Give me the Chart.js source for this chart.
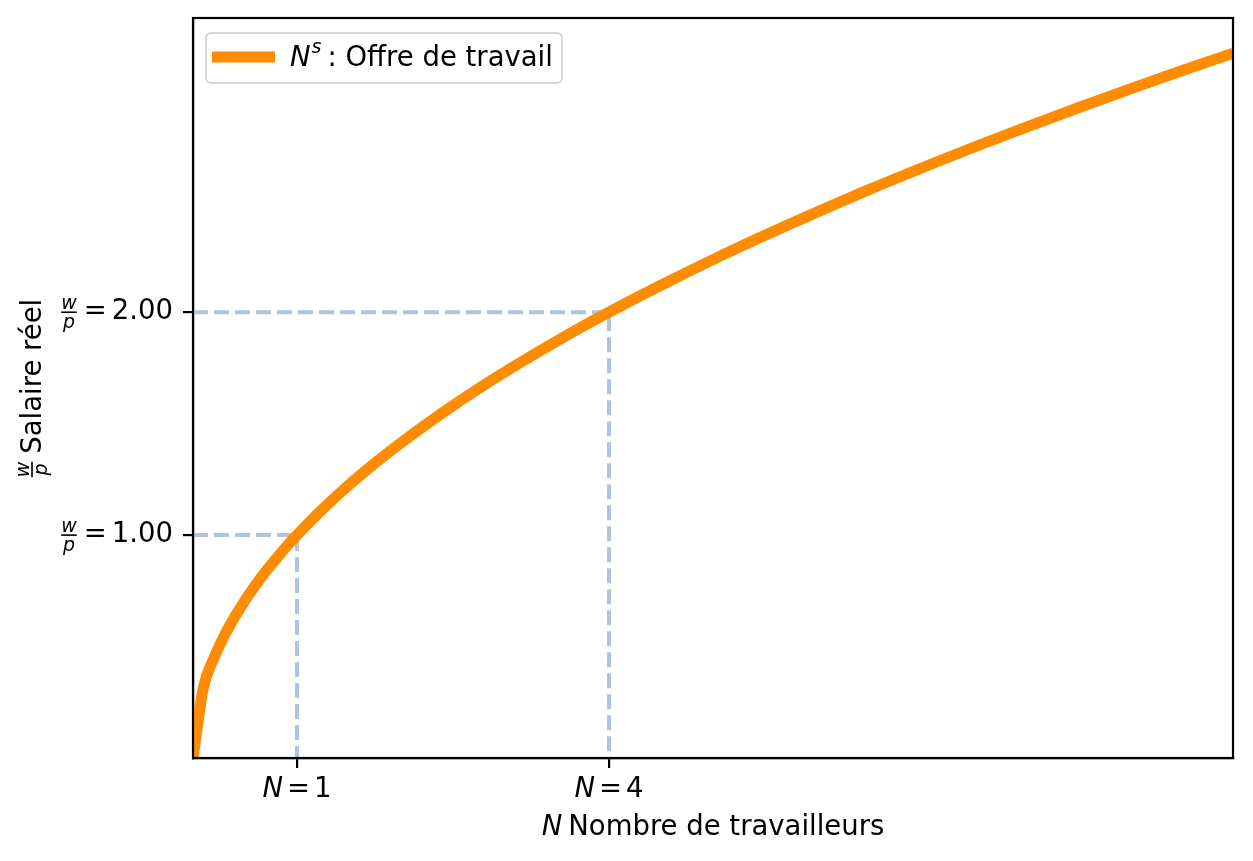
<!DOCTYPE html>
<html>
<head>
<meta charset="utf-8">
<script src="https://cdn.jsdelivr.net/npm/chart.js@4/dist/chart.umd.min.js"></script>
<style>
  body { margin: 0; background: #fff; }
  canvas { display: block; }
</style>
</head>
<body>
<canvas id="myChart" width="1253" height="861"></canvas>
<script>
// courbe d'offre de travail
var nValues = [0, 0.1, 0.2, 0.3, 0.4, 0.5, 0.6, 0.7, 0.8, 0.9, 1, 1.25, 1.5, 1.75, 2, 2.5, 3, 3.5, 4, 4.5, 5, 5.5, 6, 6.5, 7, 7.5, 8, 8.5, 9, 9.5, 10];
var wValues = [0, 0.316, 0.447, 0.548, 0.632, 0.707, 0.775, 0.837, 0.894, 0.949, 1, 1.118, 1.225, 1.323, 1.414, 1.581, 1.732, 1.871, 2, 2.121, 2.236, 2.345, 2.449, 2.550, 2.646, 2.739, 2.828, 2.915, 3, 3.082, 3.162];

// points repères (pointillés)
var guideN = [1, 4];
var guideW = [1, 2];

var xTicks = [1, 4];
var yTicks = [1, 2];
var xTickLabels = ["1", "4"];
var yTickLabels = ["1.00", "2.00"];

var legendText = ": Offre de travail";
var xTitle = "Nombre de travailleurs";
var yTitle = "Salaire réel";

var orange = "#FF8C00";
var guideColor = "#B0C4DE";
var FONT = "DejaVu Sans";
var FS = 27.5;

var curve = nValues.map((n, i) => ({ x: n, y: wValues[i] }));

var datasets = [];
guideN.forEach((n, i) => {
  datasets.push({
    data: [{ x: 0, y: guideW[i] }, { x: n, y: guideW[i] }, { x: n, y: 0 }],
    borderColor: guideColor,
    borderWidth: 4,
    borderDash: [15, 6],
    pointRadius: 0,
    order: 2
  });
});
datasets.push({
  data: curve,
  borderColor: orange,
  borderWidth: 11,
  borderCapStyle: "butt",
  cubicInterpolationMode: "monotone",
  pointRadius: 0,
  order: 1
});

function font(style, size) {
  return (style ? style + " " : "") + size + "px '" + FONT + "'";
}

// w/p en fraction
function fracWidth(ctx, size) {
  ctx.font = font("italic", size);
  return Math.max(ctx.measureText("w").width, ctx.measureText("p").width);
}
function drawFrac(ctx, x, yMid, size) {
  ctx.save();
  var w = fracWidth(ctx, size);
  ctx.textAlign = "center";
  ctx.textBaseline = "alphabetic";
  ctx.fillText("w", x + w / 2, yMid - 3);
  ctx.textBaseline = "top";
  ctx.fillText("p", x + w / 2, yMid + 1);
  ctx.fillRect(x, yMid - 0.8, w, 1.6);
  ctx.restore();
  return w;
}

// suite de morceaux [texte, style, écart]
function pieces(ctx, parts) {
  var tot = 0;
  parts.forEach(p => { ctx.font = font(p[1], FS); p.w = ctx.measureText(p[0]).width; tot += p.w + (p[2] || 0); });
  return tot;
}
function drawPieces(ctx, parts, x, y) {
  ctx.textAlign = "left";
  parts.forEach(p => {
    ctx.font = font(p[1], FS);
    ctx.fillText(p[0], x, y);
    x += p.w + (p[2] || 0);
  });
}

var customDraw = {
  id: "customDraw",
  afterDraw(chart) {
    var ctx = chart.ctx;
    var a = chart.chartArea;
    var xs = chart.scales.x, ys = chart.scales.y;
    ctx.save();
    ctx.fillStyle = "#000";

    // cadre
    ctx.strokeStyle = "#000";
    ctx.lineWidth = 2.2;
    ctx.strokeRect(a.left, a.top, a.right - a.left, a.bottom - a.top);

    // étiquettes de l'axe x
    ctx.textBaseline = "alphabetic";
    xTicks.forEach((v, i) => {
      var px = xs.getPixelForValue(v);
      var parts = [["N", "italic", 4], ["=", "", 4], [xTickLabels[i], ""]];
      var w = pieces(ctx, parts);
      drawPieces(ctx, parts, px - w / 2, 797);
    });

    // étiquettes de l'axe y
    yTicks.forEach((v, i) => {
      var py = ys.getPixelForValue(v);
      var parts = [["=", "", 5], [yTickLabels[i], ""]];
      var w = pieces(ctx, parts);
      ctx.textBaseline = "middle";
      drawPieces(ctx, parts, 173 - w, py);
      var fw = fracWidth(ctx, 19);
      drawFrac(ctx, 173 - w - 7 - fw, py, 19);
    });

    // titre x
    ctx.textBaseline = "alphabetic";
    var xp = [["N", "italic", 6], [xTitle, ""]];
    var wx = pieces(ctx, xp);
    drawPieces(ctx, xp, (a.left + a.right) / 2 - wx / 2, 835);

    // titre y (vertical)
    ctx.save();
    ctx.translate(41, (a.top + a.bottom) / 2);
    ctx.rotate(-Math.PI / 2);
    var yp = [[yTitle, ""]];
    var wy = pieces(ctx, yp);
    var fw = fracWidth(ctx, 19);
    var sx = -(fw + 8 + wy) / 2;
    ctx.textBaseline = "alphabetic";
    drawFrac(ctx, sx, -9, 19);
    ctx.textBaseline = "alphabetic";
    drawPieces(ctx, yp, sx + fw + 8, 0);
    ctx.restore();

    // légende
    var lx = 206, ly = 33, lw = 356, lh = 50;
    ctx.beginPath();
    ctx.roundRect(lx, ly, lw, lh, 5);
    ctx.fillStyle = "rgba(255,255,255,0.8)";
    ctx.fill();
    ctx.strokeStyle = "#d5d5d5";
    ctx.lineWidth = 2;
    ctx.stroke();
    ctx.strokeStyle = orange;
    ctx.lineWidth = 11;
    ctx.beginPath();
    ctx.moveTo(212, 57);
    ctx.lineTo(275, 57);
    ctx.stroke();
    ctx.fillStyle = "#000";
    ctx.textAlign = "left";
    ctx.textBaseline = "alphabetic";
    ctx.font = font("italic", FS);
    ctx.fillText("N", 290, 66);
    var wn = ctx.measureText("N").width;
    ctx.font = font("italic", 19);
    ctx.fillText("s", 290 + wn + 1, 53);
    var ws = ctx.measureText("s").width;
    ctx.font = font("", FS);
    ctx.fillText(legendText, 290 + wn + ws + 7, 66);

    ctx.restore();
  }
};

new Chart("myChart", {
  type: "line",
  data: { datasets: datasets },
  options: {
    responsive: false,
    animation: false,
    layout: { padding: { left: 183, right: 20, top: 18, bottom: 93 } },
    plugins: { legend: { display: false }, tooltip: { enabled: false } },
    scales: {
      x: {
        type: "linear",
        min: 0,
        max: 10,
        afterBuildTicks: s => { s.ticks = xTicks.map(v => ({ value: v })); },
        ticks: { display: false },
        grid: { drawOnChartArea: false, drawTicks: true, tickLength: 10, color: "#000", lineWidth: 2.2 },
        border: { display: true, color: "#000", width: 2.2 }
      },
      y: {
        type: "linear",
        min: 0,
        max: 3.32,
        afterBuildTicks: s => { s.ticks = yTicks.map(v => ({ value: v })); },
        ticks: { display: false },
        grid: { drawOnChartArea: false, drawTicks: true, tickLength: 10, color: "#000", lineWidth: 2.2 },
        border: { display: true, color: "#000", width: 2.2 }
      }
    }
  },
  plugins: [customDraw]
});
</script>
</body>
</html>
